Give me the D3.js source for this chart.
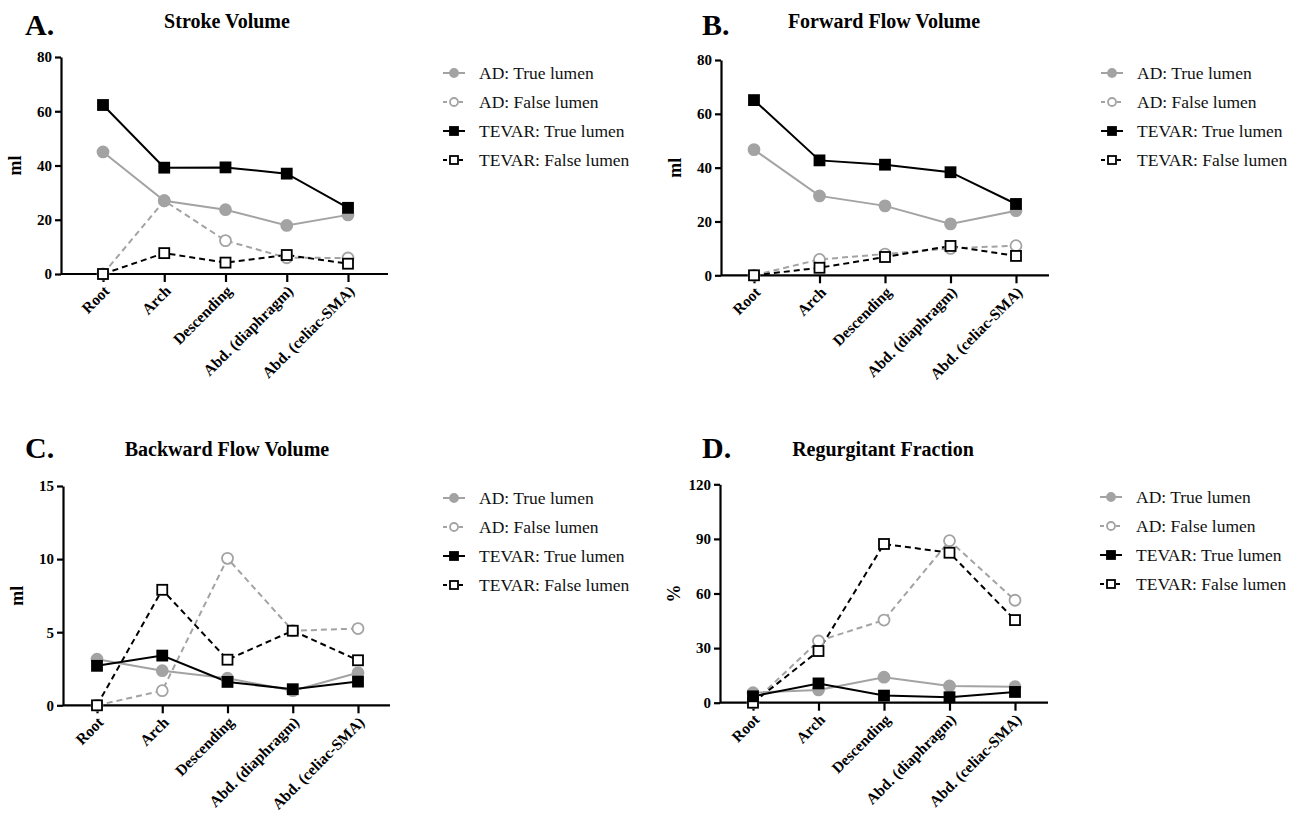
<!DOCTYPE html>
<html><head><meta charset="utf-8">
<script src="https://cdn.jsdelivr.net/npm/d3@7"></script>
<style>body{margin:0;background:#fff}svg{display:block}svg text{font-family:"Liberation Serif","Times New Roman",Times,serif}</style>
</head><body><svg id="c" width="1299" height="818"></svg>
<script>
const categories = ["Root","Arch","Descending","Abd. (diaphragm)","Abd. (celiac-SMA)"];
const seriesNames = ["AD: True lumen","AD: False lumen","TEVAR: True lumen","TEVAR: False lumen"];
// Panel A: Stroke Volume (ml)
const strokeAD_TL = [45, 27, 23.7, 17.9, 21.8];
const strokeAD_FL = [0, 27, 12.3, 6.0, 5.9];
const strokeTEVAR_TL = [62.3, 39.2, 39.3, 37.0, 24.4];
const strokeTEVAR_FL = [0, 7.7, 4.2, 7.0, 3.8];
// Panel B: Forward Flow Volume (ml)
const fwdAD_TL = [46.7, 29.5, 25.8, 19.1, 24.0];
const fwdAD_FL = [0, 5.9, 7.9, 10.0, 11.0];
const fwdTEVAR_TL = [65.1, 42.7, 41.1, 38.3, 26.5];
const fwdTEVAR_FL = [0, 2.8, 6.8, 10.9, 7.2];
// Panel C: Backward Flow Volume (ml)
const bwdAD_TL = [3.15, 2.37, 1.85, 1.0, 2.23];
const bwdAD_FL = [0, 1.0, 10.05, 5.1, 5.25];
const bwdTEVAR_TL = [2.7, 3.4, 1.6, 1.1, 1.62];
const bwdTEVAR_FL = [0, 7.9, 3.12, 5.1, 3.08];
// Panel D: Regurgitant Fraction (%)
const rfAD_TL = [5.5, 7.0, 14.0, 9.2, 8.8];
const rfAD_FL = [0, 33.9, 45.4, 89.0, 56.3];
const rfTEVAR_TL = [3.5, 10.6, 3.9, 3.0, 5.9];
const rfTEVAR_FL = [0, 28.4, 87.2, 82.4, 45.4];
const yTicksA = [0,20,40,60,80], yTicksB = [0,20,40,60,80], yTicksC = [0,5,10,15], yTicksD = [0,30,60,90,120];

const GRAY = "#a3a3a3";
const styles = [
  {color: GRAY, dash: null, shape: "circle", fill: GRAY},
  {color: GRAY, dash: "6,4", shape: "circle", fill: "#fff"},
  {color: "#000", dash: null, shape: "square", fill: "#000"},
  {color: "#000", dash: "6,4", shape: "square", fill: "#fff"}
];
const svg = d3.select("#c");
const serif = '"Liberation Serif","Times New Roman",Times,serif';

const panels = [
  {letter:"A.", title:"Stroke Volume", ylab:"ml", data:[strokeAD_TL,strokeAD_FL,strokeTEVAR_TL,strokeTEVAR_FL], ticks:yTicksA, ymax:80,
   ax:[61,388], xr:[103,348], yr:[274,57], letterPos:[25,35], titleX:227, titleY:28, legX:443, legY:73},
  {letter:"B.", title:"Forward Flow Volume", ylab:"ml", data:[fwdAD_TL,fwdAD_FL,fwdTEVAR_TL,fwdTEVAR_FL], ticks:yTicksB, ymax:80,
   ax:[721,1049], xr:[754,1016], yr:[275.3,60], letterPos:[702,35], titleX:884, titleY:28, legX:1101, legY:73},
  {letter:"C.", title:"Backward Flow Volume", ylab:"ml", data:[bwdAD_TL,bwdAD_FL,bwdTEVAR_TL,bwdTEVAR_FL], ticks:yTicksC, ymax:15,
   ax:[63,390], xr:[97,358], yr:[705.3,486], letterPos:[25,458], titleX:227, titleY:456, legX:443, legY:498},
  {letter:"D.", title:"Regurgitant Fraction", ylab:"%", data:[rfAD_TL,rfAD_FL,rfTEVAR_TL,rfTEVAR_FL], ticks:yTicksD, ymax:120,
   ax:[720,1048], xr:[753,1015], yr:[702.7,484.3], letterPos:[702,458], titleX:883, titleY:456, legX:1100, legY:497}
];

function marker(g, shape, x, y, st, size) {
  if (shape === "circle") {
    g.append("circle").attr("cx", x).attr("cy", y).attr("r", size/2)
      .attr("fill", st.fill).attr("stroke", st.color).attr("stroke-width", 1.8);
  } else {
    g.append("rect").attr("x", x - size/2).attr("y", y - size/2).attr("width", size).attr("height", size)
      .attr("fill", st.fill).attr("stroke", st.color).attr("stroke-width", 1.8);
  }
}

panels.forEach(p => {
  const g = svg.append("g");
  const x = d3.scalePoint().domain(categories).range(p.xr);
  const y = d3.scaleLinear().domain([0, p.ymax]).range(p.yr);

  g.append("text").attr("x", p.letterPos[0]).attr("y", p.letterPos[1]).text(p.letter)
    .style("font-family", serif).attr("font-size", 30).attr("font-weight", "bold");
  g.append("text").attr("x", p.titleX).attr("y", p.titleY).attr("text-anchor","middle").text(p.title)
    .style("font-family", serif).attr("font-size", 20).attr("font-weight", "bold");

  // y axis
  const ya = g.append("g").attr("transform", `translate(${p.ax[0]},0)`)
    .call(d3.axisLeft(y).tickValues(p.ticks).tickSize(6).tickPadding(3).tickSizeOuter(0));
  ya.attr("font-family", null);
  ya.select(".domain").attr("stroke-width", 2.2);
  ya.selectAll(".tick line").attr("stroke-width", 2.2);
  ya.selectAll(".tick text").style("font-family", serif).attr("font-size", 15).attr("font-weight","bold").attr("fill","#000");

  // x axis
  const xa = g.append("g").attr("transform", `translate(0,${p.yr[0]})`)
    .call(d3.axisBottom(x).tickSize(8).tickSizeOuter(0));
  xa.attr("font-family", null);
  xa.select(".domain").remove();
  xa.append("line").attr("x1", p.ax[0]).attr("x2", p.ax[1]).attr("y1", 0).attr("y2", 0)
    .attr("stroke", "#000").attr("stroke-width", 2.2);
  xa.selectAll(".tick line").attr("stroke-width", 2.2);
  xa.selectAll(".tick text").style("font-family", serif).attr("font-size", 15.5).attr("font-weight","bold").attr("fill","#000")
    .attr("text-anchor","end").attr("dy", null).attr("y", null)
    .attr("transform", "translate(7,18) rotate(-45)");

  // y label
  const ymid = (p.yr[0] + p.yr[1]) / 2;
  g.append("text").attr("transform", `translate(${p.ax[0]-40},${ymid}) rotate(-90)`).attr("text-anchor","middle")
    .text(p.ylab).style("font-family", serif).attr("font-size", 18).attr("font-weight","bold");

  const order = [1,3,0,2];
  order.forEach(i => {
    const st = styles[i];
    const vals = p.data[i];
    const line = d3.line().x((d,j) => x(categories[j])).y(d => y(d));
    g.append("path").datum(vals).attr("d", line).attr("fill","none")
      .attr("stroke", st.color).attr("stroke-width", 2).attr("stroke-dasharray", st.dash);
  });
  order.forEach(i => {
    const st = styles[i];
    p.data[i].forEach((v,j) => marker(g, st.shape, x(categories[j]), y(v), st, st.shape==="circle"?11:10));
  });

  // legend
  seriesNames.forEach((name, i) => {
    const st = styles[i];
    const ly = p.legY + i * 29;
    const lg = g.append("g");
    lg.append("line").attr("x1", p.legX).attr("x2", p.legX + 22).attr("y1", ly).attr("y2", ly)
      .attr("stroke", st.color).attr("stroke-width", 2).attr("stroke-dasharray", st.dash ? "4,4" : null);
    marker(lg, st.shape, p.legX + 11, ly, st, 8);
    lg.append("text").attr("x", p.legX + 36).attr("y", ly + 5.5).text(name)
      .style("font-family", serif).attr("font-size", 17.5).attr("fill", "#111");
  });
});
</script></body></html>
